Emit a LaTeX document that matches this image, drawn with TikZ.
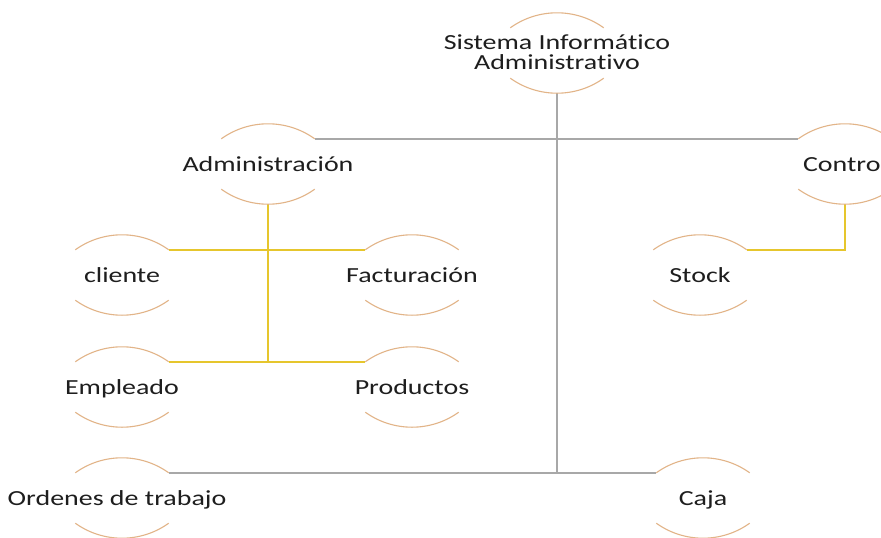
\documentclass[tikz,border=0pt]{standalone}
\usepackage{fontspec}
\setmainfont{Carlito}[FakeStretch=1.3,Ligatures=NoCommon]
\definecolor{arcc}{RGB}{226,180,136}
\definecolor{grayl}{RGB}{168,168,168}
\definecolor{yell}{RGB}{230,198,45}
\definecolor{txt}{RGB}{30,30,30}
\newcommand\mk[1]{\makebox[0pt]{#1}}
\begin{document}
\begin{tikzpicture}[x=1pt,y=-1pt,
  ent/.style={inner sep=0pt, minimum width=93pt, minimum height=50pt,
    text height=14pt, text depth=0pt, font=\fontsize{21.5}{18}\selectfont, text=txt},
  arcl/.style={draw=arcc, line width=1.1pt},
  gline/.style={draw=grayl, line width=1.5pt},
  yline/.style={draw=yell, line width=1.8pt},
  yvert/.style={draw=yell, line width=2.6pt}]
\fill[white] (0,0) rectangle (881,538);
\useasboundingbox (0,0) rectangle (881,538);
\node[ent] (root) at (557,53) {\mk{\begin{tabular}{@{}c@{}}Sistema Informático\\Administrativo\end{tabular}}};
\node[ent] (adm) at (268,164) {\mk{Administración}};
\node[ent] (ctrl) at (845,164) {\mk{Contro\phantom{l}}};
\node[ent] (cli) at (122,275) {\mk{cliente}};
\node[ent] (fac) at (412,275) {\mk{Facturación}};
\node[ent] (stock) at (700,275) {\mk{Stock}};
\node[ent] (emp) at (122,387) {\mk{Empleado}};
\node[ent] (prod) at (412,387) {\mk{Productos}};
\node[ent] (ord) at (122,498) {\mk{\hspace{-10pt}Ordenes de trabajo}};
\node[ent] (caja) at (703,498) {\mk{Caja}};
% connectors
\draw[gline] ([yshift=-15pt]root.south) -- (root.south |- ord.north east);
\draw[gline] (adm.north east) -- (ctrl.north west);
\draw[gline] (ord.north east) -- (caja.north west);
\draw[yline] ([yshift=-15pt]adm.south) |- (cli.north east);
\draw[yline] ([yshift=-15pt]adm.south) |- (fac.north west);
\draw[yline] ([yshift=-15pt]adm.south) |- (emp.north east);
\draw[yline] ([yshift=-15pt]adm.south) |- (prod.north west);
\draw[yvert] ([yshift=-15pt]adm.south) -- (adm.south |- emp.north east);
\draw[yline] ([yshift=-15pt]ctrl.south) |- (stock.north east);
% arcs
\foreach \n in {root,adm,ctrl,cli,fac,stock,emp,prod,ord,caja}{
  \draw[arcl] (\n.north west) .. controls ([xshift=27.8pt,yshift=20pt]\n.north west) and ([xshift=-27.8pt,yshift=20pt]\n.north east) .. (\n.north east);
  \draw[arcl] (\n.south west) .. controls ([xshift=27.8pt,yshift=-20pt]\n.south west) and ([xshift=-27.8pt,yshift=-20pt]\n.south east) .. (\n.south east);
}
\end{tikzpicture}
\end{document}
